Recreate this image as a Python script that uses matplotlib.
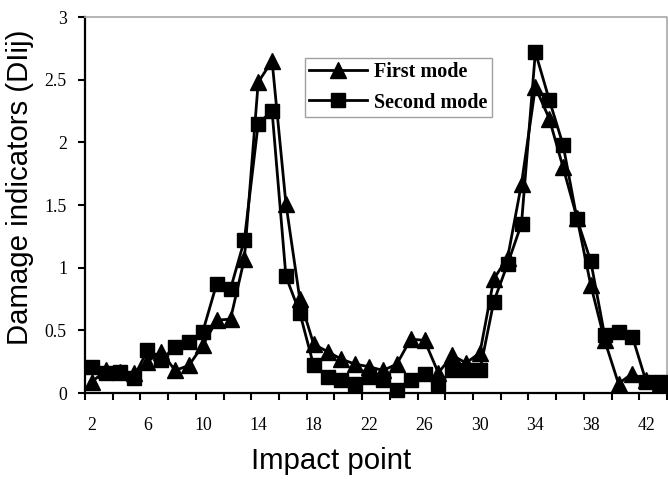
import matplotlib
matplotlib.use("Agg")
import matplotlib.pyplot as plt
import numpy as np

impact_points = list(range(2, 44))
first_mode = [0.09, 0.18, 0.17, 0.16, 0.25, 0.33, 0.18, 0.22, 0.38, 0.58,
              0.59, 1.07, 2.48, 2.65, 1.51, 0.75, 0.39, 0.33, 0.27, 0.23,
              0.21, 0.18, 0.23, 0.43, 0.42, 0.16, 0.30, 0.24, 0.32, 0.91,
              1.08, 1.67, 2.44, 2.19, 1.80, 1.40, 0.86, 0.42, 0.075, 0.155,
              0.10, 0.08]
second_mode = [0.21, 0.16, 0.17, 0.12, 0.34, 0.26, 0.37, 0.41, 0.49, 0.87,
               0.83, 1.22, 2.15, 2.25, 0.93, 0.64, 0.22, 0.13, 0.10, 0.07,
               0.13, 0.10, 0.02, 0.10, 0.155, 0.07, 0.18, 0.18, 0.18, 0.73,
               1.03, 1.35, 2.72, 2.34, 1.98, 1.39, 1.05, 0.46, 0.49, 0.45,
               0.09, 0.09]
x_tick_labels = [2, 6, 10, 14, 18, 22, 26, 30, 34, 38, 42]
y_ticks = [0, 0.5, 1, 1.5, 2, 2.5, 3]
y_tick_labels = ["0", "0.5", "1", "1.5", "2", "2.5", "3"]

W, H = 668, 487
fig = plt.figure(figsize=(W / 100, H / 100), dpi=100)
ax = fig.add_axes([85 / W, 1 - 393 / H, (667 - 85) / W, (393 - 17) / H])

ax.plot(impact_points, first_mode, color="black", lw=2.0, marker="^",
        markersize=12, label="First mode", clip_on=False, zorder=3)
ax.plot(impact_points, second_mode, color="black", lw=2.0, marker="s",
        markersize=10.5, label="Second mode", clip_on=False, zorder=3)

ax.set_xlim(1.5, 43.5)
ax.set_ylim(0, 3)

serif = "Liberation Serif"
ax.set_xticks(x_tick_labels)
ax.set_xticklabels([str(v) for v in x_tick_labels], fontfamily=serif, fontsize=12.8)
ax.set_xticks(np.arange(1.5, 44, 2), minor=True)
ax.tick_params(axis="x", which="major", length=0, pad=17)
ax.tick_params(axis="x", which="minor", length=5, width=1.5, direction="out")
ax.set_yticks(y_ticks)
ax.set_yticklabels(y_tick_labels, fontfamily=serif, fontsize=12.8)
ax.tick_params(axis="y", which="major", length=5, width=1.5, direction="out", pad=8)

for s in ["left", "bottom"]:
    ax.spines[s].set_linewidth(1.6)
    ax.spines[s].set_color("black")
for s in ["top", "right"]:
    ax.spines[s].set_linewidth(1.2)
    ax.spines[s].set_color("#a8a8a8")
    ax.spines[s].set_linestyle((0, (1, 1)))

fig.text(331 / W, 1 - 461 / H, "Impact point", fontfamily="Liberation Sans",
         fontsize=21.2, ha="center", va="center")
fig.text(20 / W, 1 - 187 / H, "Damage indicators (DIij)", fontfamily="Liberation Sans",
         fontsize=21.2, ha="center", va="center", rotation=90)

leg = ax.legend(loc="upper left", bbox_to_anchor=(305 / W, 1 - 58 / H),
                bbox_transform=fig.transFigure, frameon=True, fancybox=False,
                prop={"family": serif, "weight": "bold", "size": 14.5},
                handlelength=2.85, handletextpad=0.35, labelspacing=0.5,
                borderpad=0.22, borderaxespad=0, markerscale=1.0)
leg.get_frame().set_edgecolor("#888888")
leg.get_frame().set_linewidth(1.0)

fig.savefig("out.png", dpi=100)
